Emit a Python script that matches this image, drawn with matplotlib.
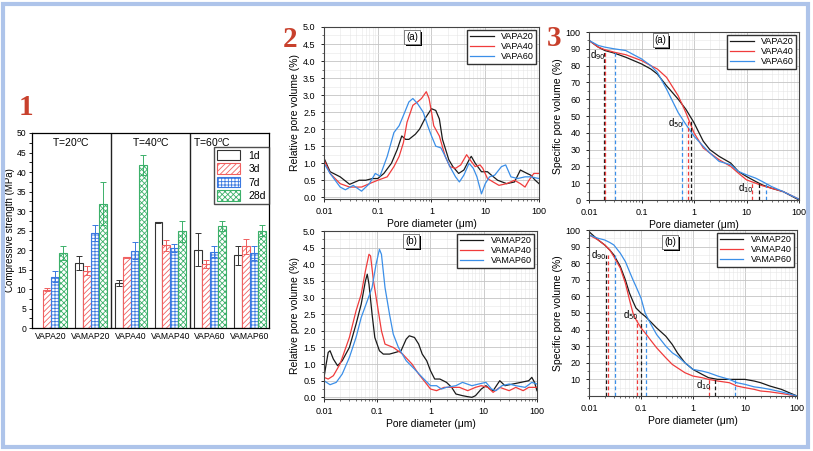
import numpy as np
import matplotlib.pyplot as plt
import matplotlib.patheffects as pe
from matplotlib.patches import Rectangle, Patch
from matplotlib.ticker import MultipleLocator, FuncFormatter

plt.rcParams['font.family'] = ['Liberation Sans', 'DejaVu Sans']
plt.rcParams['hatch.linewidth'] = 0.6

# ---- panel 1: compressive strength ----
mixes = ['VAPA20', 'VAMAP20', 'VAPA40', 'VAMAP40', 'VAPA60', 'VAMAP60']
ages = ['1d', '3d', '7d', '28d']
strength = [
    [np.nan, 16.6, 11.5, 27.1, 20.1, 18.6],   # 1d
    [9.8, 14.7, 18.1, 21.2, 16.4, 20.9],      # 3d
    [13.2, 24.3, 19.8, 20.5, 19.5, 19.2],     # 7d
    [19.2, 31.9, 41.8, 24.8, 26.2, 25.0],     # 28d
]
strength_err = [
    [np.nan, 1.8, 0.8, 0.1, 4.2, 2.5],
    [0.4, 1.2, 0.2, 1.4, 1.0, 1.8],
    [1.4, 2.0, 2.2, 1.0, 1.4, 1.7],
    [1.7, 5.6, 2.5, 2.7, 1.3, 1.5],
]
temps = ['T=20$^o$C', 'T=40$^o$C', 'T=60$^o$C']

# ---- panel 2a: relative pore volume, VAPA ----
rel_a_x = {
    'VAPA20': [0.01, 0.013, 0.02, 0.03, 0.045, 0.06, 0.08, 0.1, 0.13, 0.18, 0.23, 0.28, 0.33, 0.38, 0.5, 0.6, 0.75,
               1.0, 1.2, 1.4, 1.6, 2.1, 2.5, 3.2, 4, 5.2, 5.5, 6.5, 8.5, 11, 13, 17, 25, 35, 45, 60, 70, 85, 100],
    'VAPA40': [0.01, 0.013, 0.02, 0.03, 0.05, 0.07, 0.1, 0.15, 0.2, 0.25, 0.3, 0.35, 0.45, 0.55, 0.65, 0.8, 0.9,
               1.0, 1.1, 1.4, 1.8, 2.2, 2.8, 3.5, 4.5, 5.5, 6.5, 8, 9, 11, 14, 18, 25, 35, 45, 55, 65, 80, 100],
    'VAPA60': [0.01, 0.013, 0.02, 0.025, 0.035, 0.05, 0.07, 0.09, 0.11, 0.15, 0.2, 0.25, 0.3, 0.38, 0.45, 0.55,
               0.7, 0.85, 1.0, 1.2, 1.5, 1.8, 2.2, 2.8, 3.3, 4, 5, 6, 7, 8.5, 10, 12, 15, 20, 24, 30, 40, 55, 70, 100],
}
rel_a_y = {
    'VAPA20': [1.15, 0.75, 0.6, 0.38, 0.5, 0.5, 0.55, 0.55, 0.7, 1.0, 1.4, 1.8, 1.7, 1.7, 1.85, 2.0, 2.3,
               2.6, 2.55, 2.3, 1.7, 1.1, 0.9, 0.7, 0.8, 1.15, 1.2, 1.0, 0.75, 0.75, 0.65, 0.5, 0.4, 0.45, 0.8,
               0.7, 0.65, 0.5, 0.4],
    'VAPA40': [1.1, 0.7, 0.4, 0.3, 0.3, 0.4, 0.5, 0.6, 0.9, 1.2, 1.6, 2.2, 2.7, 2.8, 2.9, 3.1, 2.9,
               2.5, 2.1, 1.8, 1.2, 0.9, 0.85, 0.95, 1.25, 1.05, 0.9, 0.95, 0.85, 0.55, 0.45, 0.35, 0.4, 0.5,
               0.4, 0.3, 0.5, 0.7, 0.7],
    'VAPA60': [1.0, 0.7, 0.3, 0.22, 0.35, 0.18, 0.4, 0.7, 0.62, 1.2, 1.9, 2.1, 2.4, 2.8, 2.9, 2.75,
               2.5, 2.1, 1.8, 1.5, 1.45, 1.2, 0.9, 0.6, 0.45, 0.65, 1.0, 0.85, 0.6, 0.1, 0.4, 0.6, 0.65, 0.9,
               0.95, 0.6, 0.55, 0.6, 0.6, 0.55],
}

# ---- panel 2b: relative pore volume, VAMAP ----
rel_b_x = {
    'VAMAP20': [0.01, 0.011, 0.012, 0.013, 0.015, 0.018, 0.022, 0.03, 0.04, 0.05, 0.06, 0.065, 0.07, 0.08, 0.09,
                0.11, 0.13, 0.17, 0.22, 0.28, 0.35, 0.4, 0.5, 0.6, 0.7, 0.85, 1.0, 1.2, 1.5, 2, 2.5, 3, 4, 5,
                6, 7, 9, 11, 13, 15, 20, 25, 35, 50, 70, 80, 90, 100],
    'VAMAP40': [0.01, 0.012, 0.015, 0.02, 0.03, 0.04, 0.05, 0.06, 0.07, 0.075, 0.085, 0.1, 0.12, 0.14, 0.2,
                0.3, 0.45, 0.6, 0.8, 1.0, 1.3, 1.8, 2.5, 3.5, 5, 7, 9, 12, 15, 20, 30, 40, 55, 70, 100],
    'VAMAP60': [0.01, 0.013, 0.017, 0.022, 0.03, 0.04, 0.05, 0.065, 0.08, 0.095, 0.11, 0.12, 0.14, 0.17, 0.2,
                0.25, 0.35, 0.5, 0.7, 1.0, 1.3, 1.6, 2, 3, 4, 6, 8, 11, 14, 17, 22, 30, 40, 60, 80, 100],
}
rel_b_y = {
    'VAMAP20': [0.6, 1.0, 1.35, 1.4, 1.15, 0.95, 1.1, 1.5, 2.2, 2.8, 3.5, 3.7, 3.4, 2.5, 1.8,
                1.4, 1.3, 1.3, 1.35, 1.4, 1.75, 1.85, 1.8, 1.6, 1.3, 1.1, 0.8, 0.55, 0.55, 0.45, 0.3, 0.1,
                0.05, 0.02, 0.0, 0.05, 0.25, 0.35, 0.25, 0.2, 0.5, 0.35, 0.4, 0.45, 0.5, 0.6, 0.45, 0.2],
    'VAMAP40': [0.6, 0.55, 0.65, 1.0, 1.8, 2.6, 3.1, 3.8, 4.3, 4.25, 3.5, 2.8, 2.0, 1.6, 1.5,
                1.3, 1.0, 0.7, 0.45, 0.25, 0.2, 0.3, 0.3, 0.3, 0.2, 0.3, 0.35, 0.3, 0.15, 0.3, 0.2, 0.3,
                0.2, 0.3, 0.3],
    'VAMAP60': [0.5, 0.38, 0.45, 0.7, 1.2, 1.8, 2.4, 2.9, 3.3, 4.0, 4.45, 4.3, 3.3, 2.5, 1.9,
                1.5, 1.1, 0.85, 0.6, 0.35, 0.35, 0.25, 0.3, 0.35, 0.45, 0.35, 0.4, 0.45, 0.25, 0.2, 0.35,
                0.4, 0.35, 0.3, 0.45, 0.4],
}

# ---- panel 3a/3b: specific (cumulative) pore volume ----
cum_a_x = [0.01, 0.015, 0.02, 0.03, 0.05, 0.1, 0.15, 0.2, 0.3, 0.5, 0.7, 1.0, 1.5, 2, 3, 5, 7, 10, 15, 20, 30, 50, 100]
cum_a_y = {
    'VAPA20': [95, 91, 89, 87.5, 85, 81, 78, 75, 68, 60, 54, 46, 35, 30, 26, 22, 17, 14, 11, 9, 7, 5, 0],
    'VAPA40': [95, 91, 89.5, 88, 86.5, 83, 80, 78, 73, 62, 52, 40, 31, 28, 24, 20, 16, 12, 10, 8.5, 7, 5, 0.5],
    'VAPA60': [95, 92, 91, 90, 89, 84, 80, 76, 66, 52, 45, 38, 32, 28, 23, 21, 17, 15, 13, 11, 8, 5, 0.5],
}
cum_b_x = [0.01, 0.015, 0.02, 0.025, 0.03, 0.04, 0.05, 0.06, 0.07, 0.08, 0.1, 0.12, 0.15, 0.2, 0.3, 0.4, 0.5,
           0.7, 1.0, 1.5, 2, 3, 5, 7, 10, 15, 20, 30, 50, 100]
cum_b_y = {
    'VAMAP20': [99, 94, 91, 88, 85, 78, 70, 62, 57, 53, 50, 48, 45, 41, 36, 31, 26, 20, 16, 13, 11, 10, 10, 10,
                10, 9, 8, 6, 4, 0],
    'VAMAP40': [97, 94, 91, 88, 84, 77, 68, 58, 50, 46, 41, 38, 34, 29, 23, 19, 17, 14, 12, 11, 10, 9, 8, 6,
                5, 4, 3, 2.5, 1.5, 0],
    'VAMAP60': [97, 95, 94, 92.5, 91, 86, 81, 75, 70, 66, 59, 50, 44, 37, 30, 26, 24, 20, 16, 15, 14, 12, 10,
                8, 7, 5.5, 5, 4, 2.5, 0],
}
d_a = {'90': [0.019, 0.02, 0.031], '50': [0.86, 0.76, 0.58], '10': [17.5, 13, 24]}
d_b = {'90': [0.021, 0.023, 0.032], '50': [0.102, 0.085, 0.125], '10': [2.7, 2.0, 6.4]}

line_colors = ['#1a1a1a', '#f03c3c', '#3b8fe8']
bar_colors = ['#333333', '#f06060', '#3a78e0', '#3cb06a']
hatches = ['', '//////', '+++++', 'xxxxxx']

fig = plt.figure(figsize=(8.13, 4.51), dpi=100)
fig.patches.append(Rectangle((0.004, 0.008), 0.99, 0.984, transform=fig.transFigure,
                             fill=False, ec='#aec4ea', lw=3))
for s, x, y in [('1', 0.032, 0.762), ('2', 0.357, 0.912), ('3', 0.681, 0.915)]:
    fig.text(x, y, s, fontsize=21, fontweight='bold', color='#c8402c', ha='center', va='center',
             family=['Liberation Serif', 'DejaVu Serif'])

# panel 1
ax1 = fig.add_axes([0.0394, 0.2727, 0.2915, 0.4324])
w = 0.2
pos = np.arange(len(mixes))
for i, age in enumerate(ages):
    xs = pos + (i - 1.5) * w
    ax1.bar(xs, strength[i], w, fc='white', ec=bar_colors[i], hatch=hatches[i], lw=0.8, label=age)
    ax1.errorbar(xs, strength[i], yerr=strength_err[i], fmt='none', ecolor=bar_colors[i],
                 elinewidth=0.7, capsize=2, capthick=0.7)
for xv in [1.5, 3.5]:
    ax1.axvline(xv, color='#222222', lw=1)
for i, t in enumerate(temps):
    ax1.text([0.02, 2.03, 3.57][i], 47.4, t, fontsize=7.5, va='center', ha='left')
ax1.set_xlim(-0.48, 5.48)
ax1.set_ylim(0, 50)
ax1.set_xticks(pos)
ax1.set_xticklabels(mixes)
ax1.yaxis.set_major_locator(MultipleLocator(5))
ax1.yaxis.set_minor_locator(MultipleLocator(2.5))
ax1.tick_params(labelsize=6.2, length=2.5, width=0.6, pad=1.5)
ax1.tick_params(axis='x', length=0, pad=3)
ax1.set_ylabel('Compressive strength (MPa)', fontsize=7, labelpad=1)
leg_h = [Patch(fc='white', ec=bar_colors[i], hatch=hatches[i], lw=0.8) for i in range(4)]
ax1.legend(leg_h, ages, loc='upper right', bbox_to_anchor=(1.0, 0.93), fontsize=7.5, fancybox=False,
           edgecolor='#222222', borderaxespad=0, handlelength=2.2, handleheight=1.2, labelspacing=0.25,
           borderpad=0.3)
for sp in ax1.spines.values():
    sp.set_linewidth(0.9)


def pore_axes(ax, ylabel):
    ax.set_xscale('log')
    ax.set_xlim(0.01, 100)
    ax.xaxis.set_major_formatter(FuncFormatter(lambda v, p: f'{v:g}'))
    ax.grid(True, which='major', color='#c4c4c4', lw=0.6)
    ax.grid(True, which='minor', color='#e6e6e6', lw=0.4)
    ax.set_axisbelow(True)
    ax.tick_params(labelsize=6.5, length=2.5, width=0.6)
    ax.tick_params(which='minor', length=1.5, width=0.4)
    ax.set_xlabel('Pore diameter (μm)', fontsize=7.5, labelpad=2)
    ax.set_ylabel(ylabel, fontsize=7.5, labelpad=2)
    for sp in ax.spines.values():
        sp.set_color('#444444')
        sp.set_linewidth(0.8)


def tag(ax, s, x, y):
    t = ax.text(x, y, s, transform=ax.transAxes, fontsize=7, ha='center', va='center',
                bbox=dict(boxstyle='square,pad=0.2', fc='white', ec='#666666', lw=0.5))
    t.get_bbox_patch().set_path_effects([pe.withSimplePatchShadow(offset=(1.5, -1.5),
                                         shadow_rgbFace='black', alpha=1.0), pe.Normal()])


def legend(ax):
    ax.legend(loc='upper right', fontsize=6.5, fancybox=False, edgecolor='#333333', borderaxespad=0.3,
              handlelength=2.6, labelspacing=0.1, borderpad=0.3, framealpha=1)


# panel 2a / 2b
panels2 = [([0.3985, 0.5588, 0.2645, 0.3814], rel_a_x, rel_a_y, '(a)'),
           ([0.3985, 0.1153, 0.2620, 0.3725], rel_b_x, rel_b_y, '(b)')]
for rect, xd, yd, lab in panels2:
    ax = fig.add_axes(rect)
    for c, name in zip(line_colors, xd):
        ax.plot(xd[name], yd[name], color=c, lw=0.9, label=name)
    pore_axes(ax, 'Relative pore volume (%)')
    ax.set_ylim(-0.05, 5.0)
    ax.yaxis.set_major_locator(MultipleLocator(0.5))
    ax.yaxis.set_minor_locator(MultipleLocator(0.25))
    ax.yaxis.set_major_formatter(FuncFormatter(lambda v, p: f'{v:.1f}'))
    tag(ax, lab, 0.41, 0.94)
    legend(ax)

# panel 3a / 3b
panels3 = [([0.7245, 0.5565, 0.2583, 0.3725], cum_a_x, cum_a_y, d_a, '(a)',
            {'90': (0.0105, 86), '50': (0.32, 46), '10': (6.8, 7)}, {'90': 88, '50': 47, '10': 10}),
           ([0.7245, 0.1220, 0.2558, 0.3680], cum_b_x, cum_b_y, d_b, '(b)',
            {'90': (0.0108, 85), '50': (0.045, 49), '10': (1.12, 6.6)}, {'90': 85, '50': 46, '10': 10.5})]
for k, (rect, xd, yd, dd, lab, dlab, dtop) in enumerate(panels3):
    ax = fig.add_axes(rect)
    for c, name in zip(line_colors, yd):
        ax.plot(xd, yd[name], color=c, lw=0.9, label=name)
    for key in dd:
        for c, xv in zip(line_colors, dd[key]):
            ax.vlines(xv, 0, dtop[key], colors=c, linestyles=(0, (3, 2)), lw=0.9)
        ax.text(dlab[key][0], dlab[key][1], 'd$_{' + key + '}$', fontsize=7, ha='left', va='center')
    pore_axes(ax, 'Specific pore volume (%)')
    ax.set_ylim(0, 100)
    ax.yaxis.set_major_locator(MultipleLocator(10))
    ax.yaxis.set_minor_locator(MultipleLocator(5))
    if k == 1:
        ax.set_yticks(np.arange(10, 101, 10))
    tag(ax, lab, 0.34 if k == 0 else 0.39, 0.95 if k == 0 else 0.93)
    legend(ax)

fig.savefig('out.png', dpi=100)
